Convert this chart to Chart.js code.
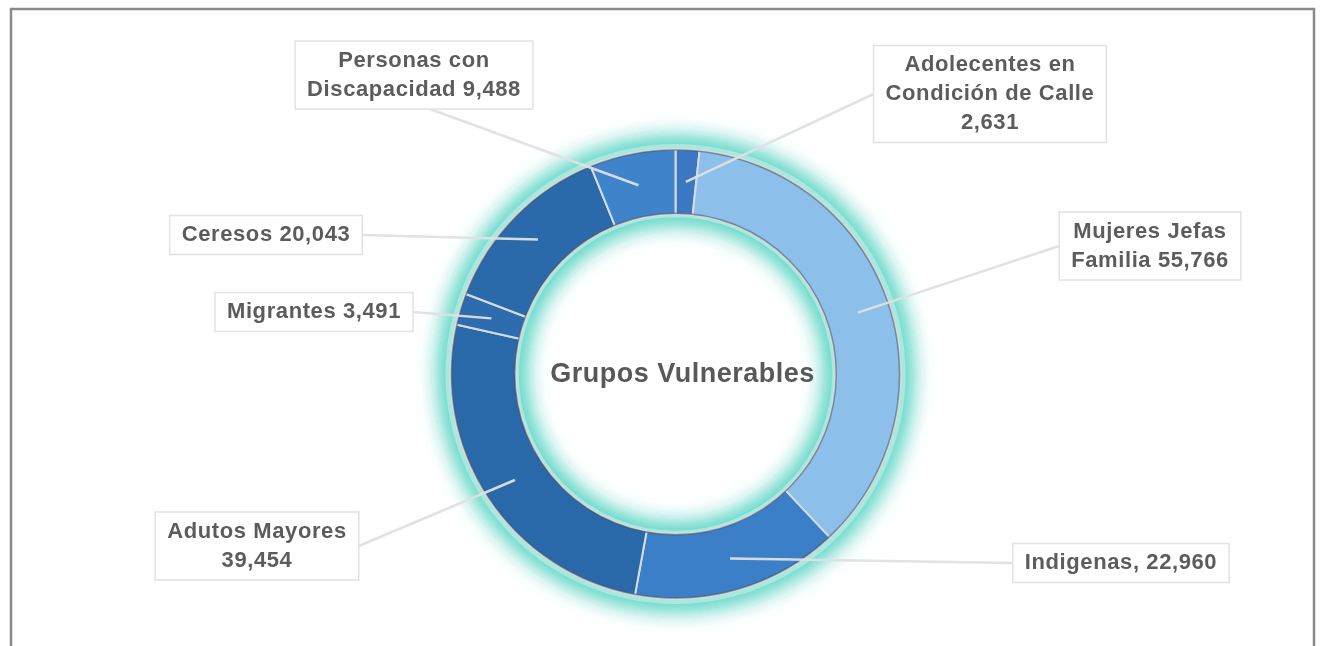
<!DOCTYPE html>
<html>
<head>
<meta charset="utf-8">
<script src="https://cdn.jsdelivr.net/npm/chart.js@4.4.0/dist/chart.umd.min.js"></script>
<style>
  html, body { margin: 0; padding: 0; background: #fff; }
  #wrap { position: relative; width: 1323px; height: 646px; }
</style>
</head>
<body>
<div id="wrap"><canvas id="grupos" width="1323" height="646"></canvas></div>
<script>
// datos
const categories = [
  'Adolecentes en Condición de Calle',
  'Mujeres Jefas Familia',
  'Indigenas',
  'Adutos Mayores',
  'Migrantes',
  'Ceresos',
  'Personas con Discapacidad',
];
const values = [2631, 55766, 22960, 39454, 3491, 20043, 9488];
// texto de cada etiqueta, por lineas
const labelLines = [
  ['Adolecentes en', 'Condición de Calle', '2,631'],
  ['Mujeres Jefas', 'Familia 55,766'],
  ['Indigenas, 22,960'],
  ['Adutos Mayores', '39,454'],
  ['Migrantes 3,491'],
  ['Ceresos 20,043'],
  ['Personas con', 'Discapacidad 9,488'],
];
const centerTitle = 'Grupos Vulnerables';

const colors = ['#3a79c2', '#8cc0ea', '#3a7fc7', '#2a69a9', '#2c6caf', '#2b6aaa', '#3f83cb'];

// donde va cada caja de etiqueta (centro) y de que lado sale la linea
const labelBoxes = [
  { cx: 990, cy: 94, side: 'left' },
  { cx: 1150, cy: 246, side: 'left' },
  { cx: 1121, cy: 563, side: 'left' },
  { cx: 257, cy: 546, side: 'right' },
  { cx: 314, cy: 312, side: 'right' },
  { cx: 266, cy: 235, side: 'right' },
  { cx: 414, cy: 75, side: 'bottom' },
];

const labelFont = 'bold 22px "Liberation Sans", Arial, sans-serif';
const lineH = 29;

const framePlugin = {
  id: 'frame',
  beforeDraw (chart) {
    const ctx = chart.ctx;
    ctx.save();
    ctx.fillStyle = '#fff';
    ctx.fillRect(0, 0, chart.width, chart.height);
    ctx.strokeStyle = '#8a8a8a';
    ctx.lineWidth = 2.5;
    ctx.strokeRect(11, 9, 1303, 660);
    ctx.restore();
  }
};

const glowPlugin = {
  id: 'glow',
  beforeDatasetsDraw (chart) {
    const arc = chart.getDatasetMeta(0).data[0];
    if (!arc) return;
    const ctx = chart.ctx;
    ctx.save();
    ctx.shadowColor = 'rgba(100,215,200,0.95)';
    ctx.fillStyle = '#a8e8de';
    for (let i = 0; i < 3; i++) {
      ctx.shadowBlur = 24;
      ctx.beginPath();
      ctx.arc(arc.x, arc.y, arc.outerRadius + 5, 0, Math.PI * 2);
      ctx.arc(arc.x, arc.y, arc.innerRadius - 3, 0, Math.PI * 2, true);
      ctx.fill();
    }
    ctx.restore();
  },
  afterDatasetsDraw (chart) {
    const arc = chart.getDatasetMeta(0).data[0];
    if (!arc) return;
    const ctx = chart.ctx;
    ctx.save();
    ctx.strokeStyle = 'rgba(70,80,90,0.55)';
    ctx.lineWidth = 1.5;
    ctx.beginPath();
    ctx.arc(arc.x, arc.y, arc.outerRadius - 1, 0, Math.PI * 2);
    ctx.stroke();
    ctx.beginPath();
    ctx.arc(arc.x, arc.y, arc.innerRadius + 1, 0, Math.PI * 2);
    ctx.stroke();
    ctx.restore();
  }
};

const calloutPlugin = {
  id: 'callouts',
  afterDraw (chart) {
    const ctx = chart.ctx;
    const meta = chart.getDatasetMeta(0);
    ctx.save();
    ctx.font = labelFont;
    ctx.letterSpacing = '0.6px';
    meta.data.forEach((arc, i) => {
      const box = labelBoxes[i];
      const lines = labelLines[i];
      const w = Math.max(...lines.map(l => ctx.measureText(l).width)) + 24;
      const h = lines.length * lineH + 10;
      const x0 = box.cx - w / 2, y0 = box.cy - h / 2;
      const p = arc.getCenterPoint();
      let sx = box.cx, sy = box.cy;
      if (box.side === 'left') sx = x0;
      if (box.side === 'right') sx = x0 + w;
      if (box.side === 'bottom') { sx = box.cx + 16; sy = y0 + h; }
      // linea guia
      ctx.strokeStyle = 'rgba(222,224,226,0.95)';
      ctx.lineWidth = 2.5;
      ctx.beginPath();
      ctx.moveTo(sx, sy);
      ctx.lineTo(p.x, p.y);
      ctx.stroke();
      // caja
      ctx.fillStyle = '#fff';
      ctx.fillRect(x0, y0, w, h);
      ctx.strokeStyle = '#e2e2e2';
      ctx.lineWidth = 1.5;
      ctx.strokeRect(x0, y0, w, h);
      ctx.fillStyle = '#5c5c5c';
      ctx.textAlign = 'center';
      ctx.textBaseline = 'middle';
      lines.forEach((l, k) => {
        ctx.fillText(l, box.cx, y0 + 5 + lineH * (k + 0.5));
      });
    });
    // titulo central
    const arc = meta.data[0];
    ctx.font = 'bold 27px "Liberation Sans", Arial, sans-serif';
    ctx.letterSpacing = '0.5px';
    ctx.fillStyle = '#585858';
    ctx.fillText(centerTitle, arc.x + 7, arc.y + 1);
    ctx.restore();
  }
};

const chart = new Chart(document.getElementById('grupos').getContext('2d'), {
  type: 'doughnut',
  data: {
    labels: categories,
    datasets: [{
      data: values,
      backgroundColor: colors,
      borderColor: '#d6dbe0',
      borderWidth: 2,
    }]
  },
  options: {
    responsive: false,
    animation: false,
    cutout: '71%',
    layout: { padding: { left: 28, right: 0, top: 148, bottom: 46 } },
    plugins: {
      legend: { display: false },
      tooltip: { enabled: false },
    }
  },
  plugins: [framePlugin, glowPlugin, calloutPlugin]
});
</script>
</body>
</html>
